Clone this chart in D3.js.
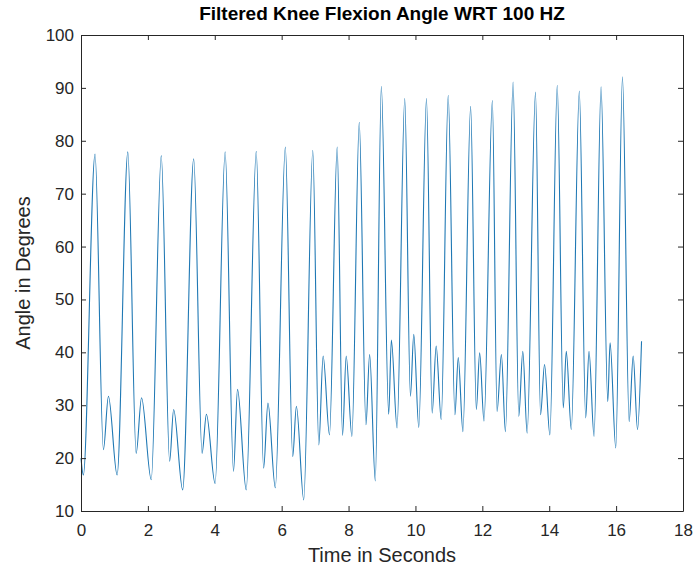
<!DOCTYPE html>
<html>
<head>
<meta charset="utf-8">
<script src="https://cdn.jsdelivr.net/npm/d3@7"></script>
<style>
  body { margin: 0; background: #fff; }
  svg text { font-family: "Liberation Sans", Arial, Helvetica, sans-serif; fill: #262626; }
</style>
</head>
<body>
<div id="chart"></div>
<script>
// extrema of the filtered knee angle (seconds, degrees)
var timeSec = [
  0.00, 0.07, 0.42, 0.67, 0.82, 1.08, 1.40, 1.65, 1.81, 2.10,
  2.40, 2.65, 2.77, 3.04, 3.37, 3.62, 3.75, 4.01, 4.31, 4.56,
  4.68, 4.94, 5.24, 5.46, 5.59, 5.81, 6.11, 6.33, 6.44, 6.66,
  6.93, 7.11, 7.24, 7.43, 7.66, 7.82, 7.93, 8.10, 8.32, 8.52,
  8.63, 8.80, 8.98, 9.20, 9.28, 9.45, 9.68, 9.85, 9.95, 10.10,
  10.33, 10.50, 10.62, 10.77, 10.98, 11.18, 11.28, 11.42, 11.65, 11.82,
  11.92, 12.05, 12.30, 12.44, 12.57, 12.69, 12.92, 13.09, 13.21, 13.34,
  13.59, 13.74, 13.86, 14.02, 14.24, 14.42, 14.51, 14.66, 14.90, 15.09,
  15.19, 15.34, 15.55, 15.75, 15.82, 15.99, 16.19, 16.39, 16.51, 16.64,
  16.76
];
var angleDeg = [
  20.0, 16.8, 77.5, 21.6, 31.7, 16.8, 77.9, 20.9, 31.4, 15.9,
  77.2, 19.4, 29.2, 14.0, 76.6, 20.9, 28.3, 15.2, 77.9, 17.5,
  33.0, 14.0, 78.0, 18.1, 30.4, 14.4, 78.8, 20.3, 29.8, 12.1,
  78.2, 22.5, 39.3, 24.4, 78.8, 24.3, 39.3, 24.1, 83.5, 26.3,
  39.6, 15.7, 90.3, 28.3, 42.3, 25.7, 88.0, 31.7, 43.4, 25.8,
  88.0, 28.5, 41.2, 27.3, 88.6, 28.2, 39.0, 25.0, 86.5, 29.2,
  39.9, 27.0, 87.6, 28.8, 39.6, 25.0, 91.1, 27.9, 40.2, 24.7,
  89.2, 28.2, 37.7, 24.4, 90.5, 29.5, 40.2, 25.4, 89.4, 27.6,
  40.2, 24.1, 90.2, 30.7, 41.8, 21.9, 92.1, 26.9, 39.3, 25.4,
  42.1
];
var xTicks = [0, 2, 4, 6, 8, 10, 12, 14, 16, 18];
var yTicks = [10, 20, 30, 40, 50, 60, 70, 80, 90, 100];

var width = 696, height = 573;
var margin = {top: 35, right: 13, bottom: 62, left: 81};
var innerW = width - margin.left - margin.right,
    innerH = height - margin.top - margin.bottom;

var svg = d3.select('#chart').append('svg')
    .attr('width', width)
    .attr('height', height);

var x = d3.scaleLinear().domain([0, 18]).range([0, innerW]);
var y = d3.scaleLinear().domain([10, 100]).range([innerH, 0]);

var g = svg.append('g')
    .attr('transform', 'translate(' + margin.left + ',' + margin.top + ')');

// the signal
var points = timeSec.map(function (t, i) { return [t, angleDeg[i]]; });
var line = d3.line()
    .x(function (d) { return x(d[0]); })
    .y(function (d) { return y(d[1]); })
    .curve(d3.curveMonotoneX);

g.append('path')
    .datum(points)
    .attr('fill', 'none')
    .attr('stroke', '#1f78b4')
    .attr('stroke-width', 1.1)
    .attr('d', line);

// matlab style box with inward ticks on all sides
function styleAxis(sel, showText) {
    sel.select('.domain').attr('stroke', '#262626').attr('stroke-width', 1);
    sel.selectAll('.tick line').attr('stroke', '#262626').attr('stroke-width', 1);
    sel.selectAll('.tick text')
        .attr('font-size', '17px')
        .style('display', showText ? null : 'none');
}

g.append('g')
    .attr('transform', 'translate(0,' + innerH + ')')
    .call(d3.axisBottom(x).tickValues(xTicks).tickSizeInner(-5).tickSizeOuter(0).tickPadding(13))
    .call(styleAxis, true);
g.append('g')
    .call(d3.axisTop(x).tickValues(xTicks).tickSizeInner(-5).tickSizeOuter(0))
    .call(styleAxis, false);
g.append('g')
    .call(d3.axisLeft(y).tickValues(yTicks).tickSizeInner(-5).tickSizeOuter(0).tickPadding(7))
    .call(styleAxis, true);
g.append('g')
    .attr('transform', 'translate(' + innerW + ',0)')
    .call(d3.axisRight(y).tickValues(yTicks).tickSizeInner(-5).tickSizeOuter(0))
    .call(styleAxis, false);

// titles
svg.append('text')
    .attr('x', margin.left + innerW / 2)
    .attr('y', 20)
    .attr('text-anchor', 'middle')
    .attr('font-size', '19px')
    .attr('font-weight', 'bold')
    .style('fill', '#000')
    .text('Filtered Knee Flexion Angle WRT 100 HZ');

svg.append('text')
    .attr('x', margin.left + innerW / 2)
    .attr('y', 562)
    .attr('text-anchor', 'middle')
    .attr('font-size', '20px')
    .text('Time in Seconds');

svg.append('text')
    .attr('transform', 'translate(30,' + (margin.top + innerH / 2) + ') rotate(-90)')
    .attr('text-anchor', 'middle')
    .attr('font-size', '20px')
    .text('Angle in Degrees');
</script>
</body>
</html>
